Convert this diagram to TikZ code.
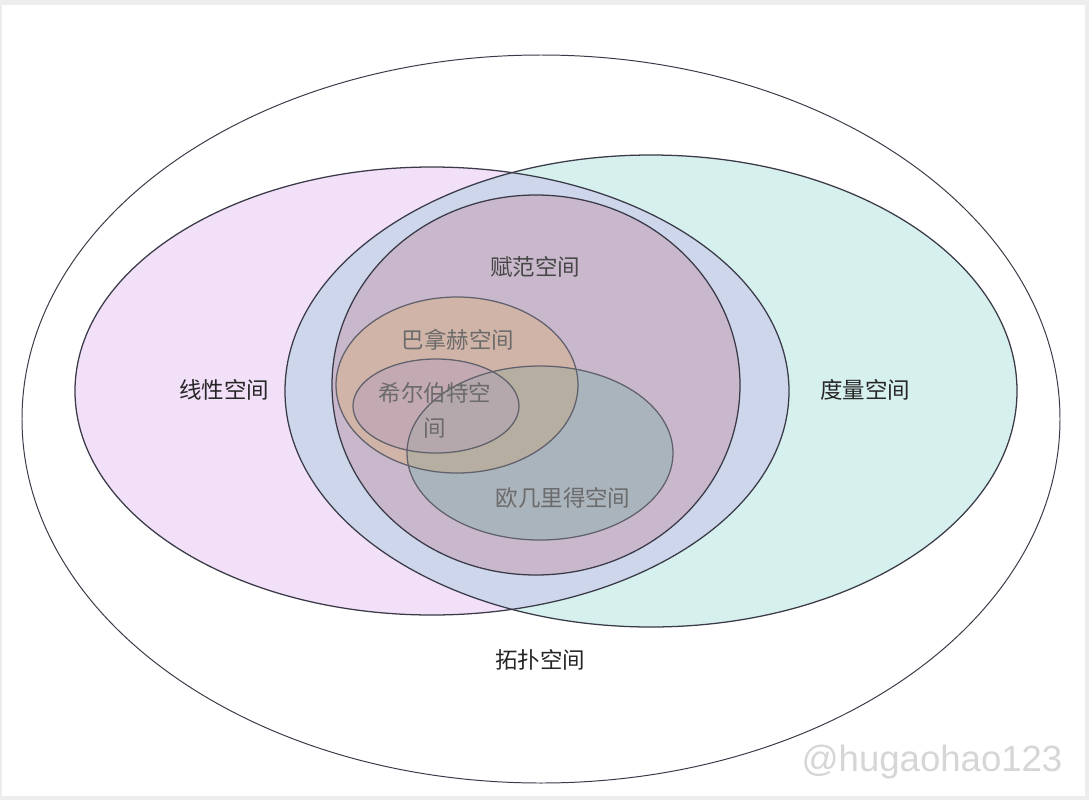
\documentclass[tikz,border=0pt]{standalone}
\usepackage{fontspec}
\setmainfont{Noto Sans CJK SC}
\setsansfont{Liberation Sans}
\usetikzlibrary{positioning}

\definecolor{linearfill}{HTML}{F1E0F8}
\definecolor{metricfill}{HTML}{D6F0EE}
\definecolor{bothfill}{HTML}{CDD6EA}
\definecolor{normfill}{HTML}{C9B8CC}
\definecolor{banachfill}{HTML}{D1B4A8}
\definecolor{euclidfill}{HTML}{AAB4BC}
\definecolor{beufill}{HTML}{B6AEA0}
\definecolor{hilbertfill}{HTML}{C3A9B2}
\definecolor{hefill}{HTML}{B4A8AC}
\definecolor{edge}{HTML}{3A3A48}

\begin{document}
\begin{tikzpicture}
                [x=0.25mm,y=-0.25mm,
                rim/.style={draw=edge,line width=0.9pt},
                lbl/.style={font=\fontsize{16}{20}\selectfont,text=black!85},
                inlbl/.style={font=\fontsize{16}{20}\selectfont,text=black!58}]
                % frame
                \fill[black!7] (0,0) rectangle (1089,800);
                \fill[white] (2,5) rectangle (1085,796);
                \useasboundingbox (0,0) rectangle (1089,800);
                % topological space
                \draw[rim,line width=0.7pt] (541,419) ellipse (519 and 364);
                % linear / metric
                \fill[linearfill] (432,391) ellipse (357 and 224);
                \fill[metricfill] (651,391) ellipse (366 and 236);
                \begin{scope}
                    \clip (432,391) ellipse (357 and 224);
                    \fill[bothfill] (651,391) ellipse (366 and 236);
                \end{scope}
                % normed
                \fill[normfill] (536,385) ellipse (204 and 190);
                % banach, euclid, hilbert
                \fill[banachfill] (457,385) ellipse (121 and 88);
                \fill[euclidfill] (540,453) ellipse (133 and 87);
                \begin{scope}
                    \clip (457,385) ellipse (121 and 88);
                    \fill[beufill] (540,453) ellipse (133 and 87);
                \end{scope}
                \fill[hilbertfill] (436,406) ellipse (83 and 47);
                \begin{scope}
                    \clip (436,406) ellipse (83 and 47);
                    \fill[hefill] (540,453) ellipse (133 and 87);
                \end{scope}
                % outlines
                \draw[rim] (432,391) ellipse (357 and 224);
                \draw[rim] (651,391) ellipse (366 and 236);
                \draw[rim] (536,385) ellipse (204 and 190);
                \draw[rim,draw=edge!80] (457,385) ellipse (121 and 88);
                \draw[rim,draw=edge!80] (540,453) ellipse (133 and 87);
                \draw[rim,draw=edge!80] (436,406) ellipse (83 and 47);
                % labels
                \node[lbl] (linear) at (224,390) {线性空间};
                \node[lbl] (metric) at (865,390) {度量空间};
                \node[lbl] (topo) at (540,660) {拓扑空间};
                \node[lbl,text=black!72] (normed) at (535,267) {赋范空间};
                \node[inlbl] (banach) at (458,340) {巴拿赫空间};
                \node[inlbl,align=center,font=\fontsize{16}{25}\selectfont] (hilbert) at (435,410) {希尔伯特空\\间};
                \node[inlbl] (euclid) at (563,498) {欧几里得空间};
                % watermark
                \node[font=\fontsize{26}{30}\selectfont\sffamily,text=black!16] (mark) at (932,762) {@hugaohao123};
\end{tikzpicture}
\end{document}
